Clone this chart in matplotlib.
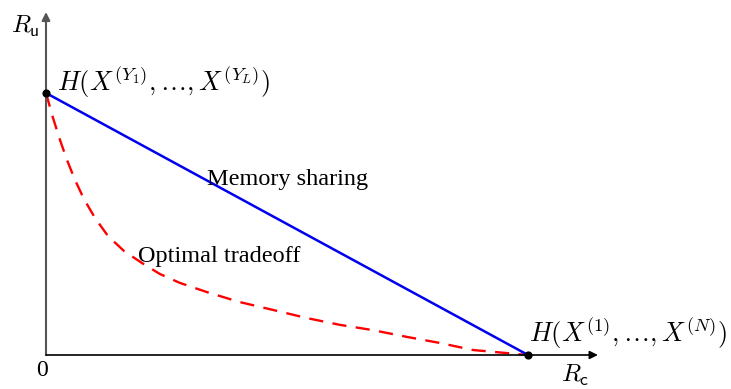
import matplotlib
matplotlib.use("Agg")
import matplotlib.pyplot as plt

# Data (normalized: Rc endpoint = 1, Ru start = 1)
memory_x = [0.0, 1.0]
memory_y = [1.0, 0.0]
optimal_x = [0.0, 0.0145, 0.0290, 0.0436, 0.0602, 0.0788, 0.1017, 0.1286, 0.1618,
             0.1992, 0.2365, 0.278, 0.334, 0.402, 0.471, 0.541, 0.610, 0.678,
             0.749, 0.817, 0.886, 1.0]
optimal_y = [1.0, 0.905, 0.821, 0.744, 0.668, 0.595, 0.523, 0.454, 0.397,
             0.351, 0.309, 0.275, 0.240, 0.202, 0.172, 0.141, 0.115, 0.095,
             0.069, 0.046, 0.019, 0.0]
corner_x = [0.0, 1.0]
corner_y = [1.0, 0.0]

plt.rcParams['mathtext.fontset'] = 'cm'
fig = plt.figure(figsize=(7.31, 3.89), dpi=100)
ax = fig.add_axes([0, 0, 1, 1])
ax.set_xlim(-46 / 482, (731 - 46) / 482)
ax.set_ylim(-34 / 262, 355 / 262)
ax.axis('off')

# axes with arrows
ax.annotate('', xy=(0, 1.309), xytext=(0, 0),
            arrowprops=dict(arrowstyle='-|>', color='#555555', lw=1.5,
                            mutation_scale=12, shrinkA=0, shrinkB=0))
ax.annotate('', xy=(1.145, 0), xytext=(0, 0),
            arrowprops=dict(arrowstyle='-|>', color='black', lw=1.2,
                            mutation_scale=12, shrinkA=0, shrinkB=0))

ax.plot(optimal_x, optimal_y, color='red', lw=1.7, ls=(0, (6, 4)))
ax.plot(memory_x, memory_y, color='#0000ee', lw=1.8)
ax.scatter(corner_x, corner_y, s=24, color='black', zorder=5)

serif = 'Liberation Serif'
ax.text(0.022, 1.008, r'$H(X^{(Y_1)},\ldots,X^{(Y_L)})$', fontsize=19,
        ha='left', va='baseline')
ax.text(1.003, 0.0496, r'$H(X^{(1)},\ldots,X^{(N)})$', fontsize=19,
        ha='left', va='baseline')
ax.text(-0.072, 1.229, r'$R_{\mathsf{u}}$', fontsize=18, ha='left', va='baseline')
ax.text(1.068, -0.102, r'$R_{\mathsf{c}}$', fontsize=18, ha='left', va='baseline')
ax.text(-0.0083, -0.079, '0', fontsize=17, family=serif, ha='center', va='baseline')
ax.text(0.334, 0.649, 'Memory sharing', fontsize=17.5, family=serif,
        ha='left', va='baseline')
ax.text(0.191, 0.355, 'Optimal tradeoff', fontsize=17.5, family=serif,
        ha='left', va='baseline')

fig.savefig('out.png', dpi=100)
